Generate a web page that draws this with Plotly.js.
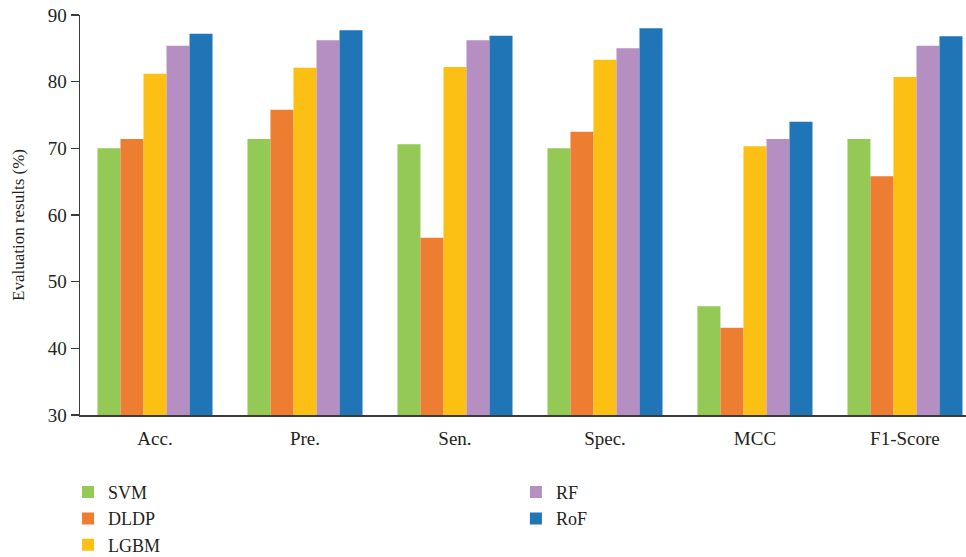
<!DOCTYPE html>
<html>
<head>
<meta charset="utf-8">
<script src="https://cdn.plot.ly/plotly-3.0.1.min.js"></script>
<style>
  html, body { margin: 0; padding: 0; background: #fff; }
  #chart { width: 966px; height: 557px; }
</style>
</head>
<body>
<div id="chart"></div>
<script>
// Evaluation metrics for each classifier
const metrics = ['Acc.', 'Pre.', 'Sen.', 'Spec.', 'MCC', 'F1-Score'];

const svm  = [70.0, 71.4, 70.6, 70.0, 46.3, 71.4];
const dldp = [71.4, 75.8, 56.6, 72.5, 43.1, 65.8];
const lgbm = [81.2, 82.1, 82.2, 83.3, 70.3, 80.7];
const rf   = [85.4, 86.2, 86.2, 85.0, 71.4, 85.4];
const rof  = [87.2, 87.7, 86.9, 88.0, 74.0, 86.8];

const modelNames  = ['SVM', 'DLDP', 'LGBM', 'RF', 'RoF'];
const modelValues = [svm, dldp, lgbm, rf, rof];
const modelColors = ['#95C956', '#ED7D31', '#FCBF13', '#B58FC2', '#2075B6'];
const modelLegend = ['legend', 'legend', 'legend', 'legend2', 'legend2'];

const yTicks = [30, 40, 50, 60, 70, 80, 90];
const yTitle = 'Evaluation results (%)';

const FONT = 'Liberation Serif, DejaVu Serif, serif';
const INK = '#231F20';

const traces = modelNames.map((name, i) => ({
  type: 'bar',
  name: name,
  x: metrics,
  y: modelValues[i],
  marker: { color: modelColors[i], line: { width: 0 } },
  legend: modelLegend[i],
  hoverinfo: 'x+y+name'
}));

// Two legend columns below the plot
const legendCommon = {
  orientation: 'v',
  xanchor: 'left',
  yanchor: 'top',
  bgcolor: 'rgba(0,0,0,0)',
  borderwidth: 0,
  font: { family: FONT, size: 18, color: INK },
  itemclick: false,
  itemdoubleclick: false,
  tracegroupgap: 0,
  maxheight: 300
};

const legendTop = -0.147;

const layout = {
  width: 966,
  height: 557,
  margin: { l: 80, r: 0, t: 15, b: 142, autoexpand: false },
  paper_bgcolor: '#fff',
  plot_bgcolor: '#fff',
  barmode: 'group',
  bargap: 0.233,
  bargroupgap: 0,
  font: { family: FONT, color: INK },
  showlegend: true,
  legend: Object.assign({}, legendCommon, { x: -0.0135, y: legendTop }),
  legend2: Object.assign({}, legendCommon, { x: 0.492, y: legendTop }),
  xaxis: {
    type: 'category',
    range: [-0.5, 5.407],
    showline: true,
    linecolor: '#3a3a3a',
    linewidth: 1.5,
    ticks: '',
    showgrid: false,
    zeroline: false,
    tickfont: { family: FONT, size: 19, color: INK },
    ticklabelstandoff: 6
  },
  yaxis: {
    range: [30, 90],
    tickvals: yTicks,
    ticktext: yTicks.map(String),
    showline: true,
    linecolor: '#3a3a3a',
    linewidth: 1.5,
    ticks: 'outside',
    ticklen: 8,
    tickwidth: 1.5,
    tickcolor: '#3a3a3a',
    showgrid: false,
    zeroline: false,
    tickfont: { family: FONT, size: 19, color: INK }
  },
  // Rotated y-axis title
  annotations: [{
    text: yTitle,
    textangle: -90,
    xref: 'paper',
    yref: 'paper',
    x: -0.07,
    y: 0.475,
    xanchor: 'center',
    yanchor: 'middle',
    showarrow: false,
    font: { family: FONT, size: 17, color: INK }
  }]
};

Plotly.newPlot('chart', traces, layout, { displayModeBar: false, staticPlot: true });
</script>
</body>
</html>
